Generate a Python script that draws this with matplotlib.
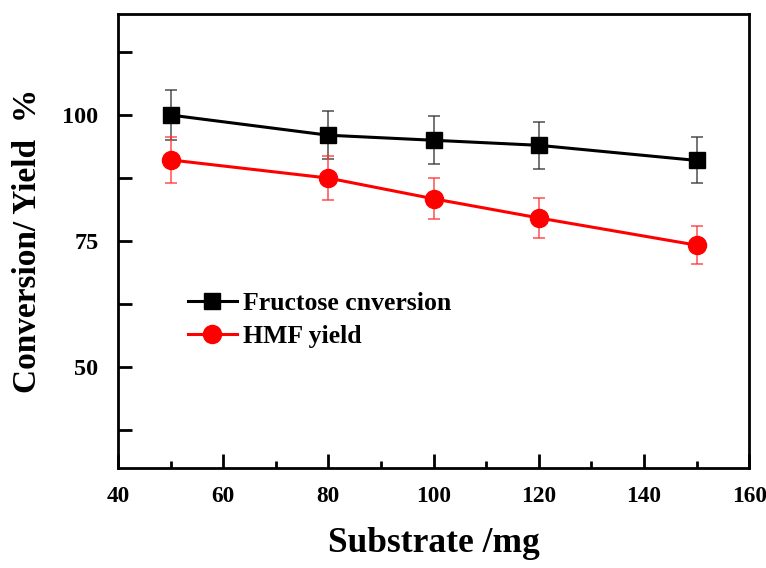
import matplotlib.pyplot as plt
from matplotlib.ticker import MultipleLocator

# donnees
substrate = [50, 80, 100, 120, 150]
conversion = [100.0, 96.0, 95.0, 94.0, 91.0]
conversion_err = [4.9, 4.8, 4.75, 4.65, 4.55]
hmf_yield = [91.1, 87.5, 83.4, 79.6, 74.2]
hmf_err = [4.6, 4.3, 4.1, 4.0, 3.7]

plt.rcParams['font.family'] = 'Liberation Serif'
plt.rcParams['font.weight'] = 'bold'
plt.rcParams['xtick.labelsize'] = 16.8
plt.rcParams['ytick.labelsize'] = 17.5

fig = plt.figure(figsize=(7.66, 5.68), dpi=100)
ax = fig.add_axes([0.154, 0.176, 0.824, 0.799])

ax.errorbar(substrate, conversion, yerr=conversion_err, fmt='none',
            ecolor='#333333', elinewidth=1.2, capsize=4, capthick=1.2, alpha=0.8)
ax.errorbar(substrate, hmf_yield, yerr=hmf_err, fmt='none',
            ecolor='#ff3333', elinewidth=1.2, capsize=4, capthick=1.2, alpha=0.8)
ax.plot(substrate, conversion, color='black', marker='s', markersize=11.5,
        linewidth=2.2, label='Fructose cnversion')
ax.plot(substrate, hmf_yield, color='red', marker='o', markersize=13,
        linewidth=2.2, label='HMF yield')

ax.set_xlim(40, 160)
ax.set_ylim(30, 120)
ax.xaxis.set_major_locator(MultipleLocator(20))
ax.xaxis.set_minor_locator(MultipleLocator(10))
ax.yaxis.set_major_locator(MultipleLocator(25))
ax.yaxis.set_minor_locator(MultipleLocator(12.5))
ax.set_yticks([50, 75, 100])

for s in ax.spines.values():
    s.set_linewidth(2)
ax.tick_params(axis='x', which='major', direction='in', length=10, width=2, pad=13)
ax.tick_params(axis='x', which='minor', direction='in', length=5, width=2)
ax.tick_params(axis='y', which='both', direction='in', length=10, width=2, pad=14)
ax.tick_params(top=False, right=False, which='both')

ax.set_xlabel('Substrate /mg', fontsize=25.5, fontweight='bold', labelpad=14)
ax.set_ylabel('Conversion/ Yield  %', fontsize=24, fontweight='bold', labelpad=14)

ax.legend(loc='center left', bbox_to_anchor=(0.111, 0.326), frameon=False,
          fontsize=18.5, borderpad=0, borderaxespad=0, handlelength=1.9,
          handletextpad=0.25, labelspacing=0.4)

plt.savefig('out.png', dpi=100)
